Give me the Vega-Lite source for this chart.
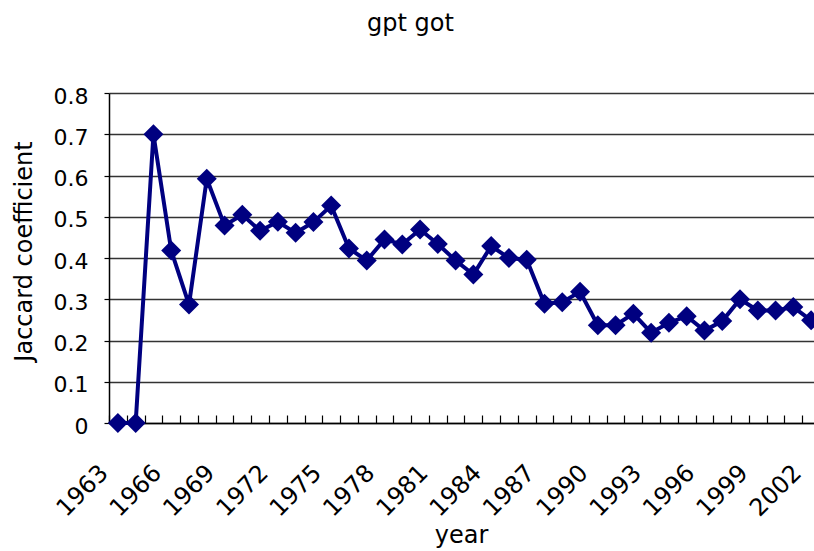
{
  "$schema": "https://vega.github.io/schema/vega-lite/v6.json",
  "autosize": "none",
  "padding": {"left": 109, "top": 93, "right": 0, "bottom": 128},
  "width": 705,
  "height": 330,
  "background": "white",
  "title": {
    "text": "gpt got",
    "font": "DejaVu Sans",
    "fontSize": 24,
    "fontWeight": "normal",
    "color": "black",
    "anchor": "middle",
    "frame": "group",
    "baseline": "alphabetic",
    "offset": 30,
    "dx": -51
  },
  "config": {
    "view": {"stroke": null},
    "axis": {"labelFont": "DejaVu Sans", "titleFont": "DejaVu Sans", "labelColor": "black", "titleColor": "black", "titleFontWeight": "normal"}
  },
  "data": {
    "values": [
      {"year": 1963, "jaccard": 0},
      {"year": 1964, "jaccard": 0},
      {"year": 1965, "jaccard": 0.70},
      {"year": 1966, "jaccard": 0.418},
      {"year": 1967, "jaccard": 0.287},
      {"year": 1968, "jaccard": 0.592},
      {"year": 1969, "jaccard": 0.479},
      {"year": 1970, "jaccard": 0.505},
      {"year": 1971, "jaccard": 0.466},
      {"year": 1972, "jaccard": 0.488},
      {"year": 1973, "jaccard": 0.461},
      {"year": 1974, "jaccard": 0.487},
      {"year": 1975, "jaccard": 0.527},
      {"year": 1976, "jaccard": 0.423},
      {"year": 1977, "jaccard": 0.394},
      {"year": 1978, "jaccard": 0.445},
      {"year": 1979, "jaccard": 0.433},
      {"year": 1980, "jaccard": 0.469},
      {"year": 1981, "jaccard": 0.434},
      {"year": 1982, "jaccard": 0.394},
      {"year": 1983, "jaccard": 0.360},
      {"year": 1984, "jaccard": 0.429},
      {"year": 1985, "jaccard": 0.400},
      {"year": 1986, "jaccard": 0.396},
      {"year": 1987, "jaccard": 0.289},
      {"year": 1988, "jaccard": 0.293},
      {"year": 1989, "jaccard": 0.318},
      {"year": 1990, "jaccard": 0.237},
      {"year": 1991, "jaccard": 0.237},
      {"year": 1992, "jaccard": 0.265},
      {"year": 1993, "jaccard": 0.219},
      {"year": 1994, "jaccard": 0.243},
      {"year": 1995, "jaccard": 0.259},
      {"year": 1996, "jaccard": 0.224},
      {"year": 1997, "jaccard": 0.247},
      {"year": 1998, "jaccard": 0.300},
      {"year": 1999, "jaccard": 0.273},
      {"year": 2000, "jaccard": 0.273},
      {"year": 2001, "jaccard": 0.281},
      {"year": 2002, "jaccard": 0.249}
    ]
  },
  "encoding": {
    "x": {
      "field": "year",
      "type": "ordinal",
      "scale": {"type": "point", "padding": 0.5, "range": [0, 711]},
      "axis": {
        "title": "year",
        "titleFontSize": 24,
        "titleX": 352,
        "titleY": 119,
        "titleBaseline": "alphabetic",
        "titleAnchor": "middle",
        "labelAngle": -45,
        "labelAlign": "right",
        "labelBaseline": "middle",
        "labelFontSize": 24,
        "labelPadding": 54,
        "tickOffset": -8.89,
        "labelOffset": -5,
        "labelOverlap": false,
        "labelOpacity": {"condition": {"test": "(datum.value - 1963) % 3 !== 0", "value": 0}, "value": 1},
        "tickSize": -8,
        "tickColor": "black",
        "tickWidth": 1.2,
        "domainColor": "black",
        "domainWidth": 1.5,
        "grid": false
      }
    },
    "y": {
      "field": "jaccard",
      "type": "quantitative",
      "scale": {"domain": [0, 0.8], "nice": false},
      "axis": {
        "title": "Jaccard coefficient",
        "titleFontSize": 24,
        "titleAngle": -90,
        "titleX": -85,
        "titleY": 158,
        "titleBaseline": "middle",
        "titleAlign": "center",
        "values": [0, 0.1, 0.2, 0.3, 0.4, 0.5, 0.6, 0.7, 0.8],
        "format": "~g",
        "labelFontSize": 22,
        "labelPadding": 16,
        "labelOffset": 3,
        "tickSize": 5,
        "tickColor": "black",
        "tickWidth": 1.2,
        "domainColor": "black",
        "domainWidth": 1.5,
        "grid": true,
        "gridColor": "#333333",
        "gridWidth": 1.3,
        "gridOpacity": 1
      }
    }
  },
  "layer": [
    {"mark": {"type": "line", "color": "#000080", "strokeWidth": 4}},
    {"mark": {"type": "point", "shape": "diamond", "size": 400, "filled": true, "color": "#000080", "opacity": 1}}
  ]
}
